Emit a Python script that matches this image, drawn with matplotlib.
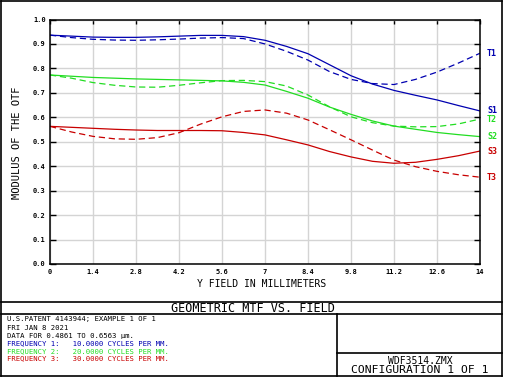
import numpy as np
import matplotlib
matplotlib.use('Agg')
import matplotlib.pyplot as plt
from matplotlib.lines import Line2D

# field positions (mm) and MTF values
field = [0, 0.7, 1.4, 2.1, 2.8, 3.5, 4.2, 4.9, 5.6, 6.3, 7, 7.7, 8.4, 9.1, 9.8, 10.5, 11.2, 11.9, 12.6, 13.3, 14]
s1 = [.936, .932, .928, .927, .927, .929, .932, .935, .935, .930, .915, .890, .860, .815, .770, .736, .710, .690, .671, .648, .626]
t1 = [.936, .926, .919, .916, .915, .917, .920, .924, .926, .922, .900, .870, .834, .787, .755, .738, .734, .755, .785, .822, .862]
s2 = [.773, .768, .763, .760, .757, .755, .753, .751, .749, .743, .732, .706, .678, .642, .612, .585, .564, .551, .538, .529, .521]
t2 = [.773, .760, .742, .731, .724, .723, .731, .741, .750, .751, .746, .728, .691, .643, .602, .578, .564, .561, .562, .573, .593]
s3 = [.563, .559, .555, .551, .548, .546, .546, .546, .545, .538, .528, .508, .487, .460, .438, .420, .412, .416, .428, .443, .462]
t3 = [.563, .540, .522, .512, .510, .517, .537, .572, .602, .624, .630, .617, .589, .549, .508, .466, .425, .398, .379, .365, .355]

xticks = [0, 1.4, 2.8, 4.2, 5.6, 7, 8.4, 9.8, 11.2, 12.6, 14]
xticklabels = ['0', '1.4', '2.8', '4.2', '5.6', '7', '8.4', '9.8', '11.2', '12.6', '14']
yticks = np.round(np.arange(0, 1.01, 0.1), 1)

blue = '#0000b0'
green = '#22dd22'
red = '#c80000'
mono = 'DejaVu Sans Mono'

W, H = 506, 379
fig = plt.figure(figsize=(W / 100, H / 100), dpi=100)
fig.patch.set_facecolor('white')

def fx(x):
    return x / W

def fy(y):
    return 1 - y / H

ax = fig.add_axes([fx(50), fy(264), (480 - 50) / W, (264 - 19.5) / H])
ax.set_xlim(0, 14)
ax.set_ylim(0, 1)
ax.set_xticks(xticks)
ax.set_xticklabels(xticklabels)
ax.set_yticks(yticks)
ax.set_yticklabels(['%.1f' % v for v in yticks])
ax.grid(True, color='#d4d4d4', lw=1)
ax.set_axisbelow(True)
for sp in ax.spines.values():
    sp.set_linewidth(1.1)
ax.tick_params(axis='x', bottom=False, top=True, direction='in', length=3, width=1, pad=3.5)
ax.tick_params(axis='y', left=True, right=True, direction='in', length=4.5, width=1, pad=3)
for lab in ax.get_xticklabels() + ax.get_yticklabels():
    lab.set_fontfamily(mono)
    lab.set_fontsize(5)
    lab.set_fontweight('bold')

dash = (5, 3)
curves = [(t1, blue, 'T1', True), (s1, blue, 'S1', False),
          (t2, green, 'T2', True), (s2, green, 'S2', False),
          (s3, red, 'S3', False), (t3, red, 'T3', True)]
for vals, col, name, dashed in curves:
    ln, = ax.plot(field, vals, color=col, lw=0.9)
    if dashed:
        ln.set_dashes(dash)
    ax.annotate(name, xy=(field[-1], vals[-1]), xytext=(5, 0), textcoords='offset points',
                color=col, fontfamily=mono, fontsize=6, fontweight='bold', va='center',
                annotation_clip=False)

fig.text(fx(262), fy(284), 'Y FIELD IN MILLIMETERS', fontfamily=mono, fontsize=7,
         ha='center', va='center')
fig.text(fx(17), fy(143), 'MODULUS OF THE OTF', fontfamily=mono, fontsize=7.5,
         rotation=90, ha='center', va='center')

# frame boxes
def hline(y, x0, x1):
    fig.add_artist(Line2D([fx(x0), fx(x1)], [fy(y), fy(y)], color='black', lw=1.2,
                          transform=fig.transFigure))

def vline(x, y0, y1):
    fig.add_artist(Line2D([fx(x), fx(x)], [fy(y0), fy(y1)], color='black', lw=1.2,
                          transform=fig.transFigure))

hline(1, 1, 502)
hline(376, 1, 502)
vline(1, 1, 376)
vline(502, 1, 376)
hline(302, 1, 502)
hline(314, 1, 502)
vline(337, 314, 376)
hline(353, 337, 502)

fig.text(fx(253), fy(308.5), 'GEOMETRIC MTF VS. FIELD', fontfamily=mono, fontsize=8.5,
         ha='center', va='center')

info = [('U.S.PATENT 4143944; EXAMPLE 1 OF 1', 'black', 318.8),
        ('FRI JAN 8 2021', 'black', 328.3),
        ('DATA FOR 0.4861 TO 0.6563 \u00b5m.', 'black', 335.8),
        ('FREQUENCY 1:   10.0000 CYCLES PER MM.', blue, 343.3),
        ('FREQUENCY 2:   20.0000 CYCLES PER MM.', green, 350.8),
        ('FREQUENCY 3:   30.0000 CYCLES PER MM.', red, 358.3)]
for txt, col, y in info:
    fig.text(fx(7), fy(y), txt, fontfamily=mono, fontsize=5.2, color=col,
             ha='left', va='center')

fig.text(fx(420), fy(360.5), 'WDF3514.ZMX', fontfamily=mono, fontsize=7,
         ha='center', va='center')
fig.text(fx(420), fy(369.8), 'CONFIGURATION 1 OF 1', fontfamily=mono, fontsize=8.2,
         ha='center', va='center')

fig.savefig('out.png', dpi=100)
